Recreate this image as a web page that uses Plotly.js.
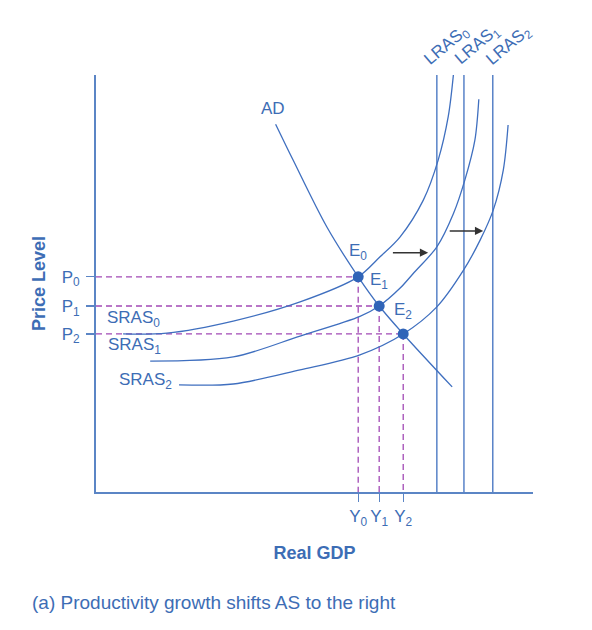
<!DOCTYPE html>
<html>
<head>
<meta charset="utf-8">
<script src="https://cdn.plot.ly/plotly-3.0.1.min.js"></script>
<style>html,body{margin:0;padding:0;background:#fff;}#chart{width:592px;height:630px;}</style>
</head>
<body>
<div id="chart"></div>
<script>
// Abstract units: Real GDP (x) and Price Level (y), both on a 0-100 scale
const adX = [41.1, 45.1, 52.8, 60.0, 64.8, 70.3, 81.5];
const adY = [88.2, 79.6, 63.6, 51.6, 44.6, 37.9, 25.2];

const sras0X = [6.2, 16.2, 31.4, 46.7, 60.0, 65.0, 69.6, 74.9, 78.3, 80.6, 81.8];
const sras0Y = [37.9, 38.1, 41.0, 45.6, 51.6, 56.4, 61.2, 70.0, 79.6, 90.0, 100.2];

const sras1X = [12.4, 31.4, 46.7, 60.4, 64.8, 69.6, 72.6, 78.0, 81.8, 84.4, 86.7, 87.6];
const sras1Y = [31.4, 32.4, 37.4, 42.1, 44.6, 48.9, 52.4, 58.8, 66.8, 74.8, 84.4, 94.2];

const sras2X = [19.0, 31.4, 46.7, 60.4, 70.3, 78.0, 84.1, 87.9, 90.9, 93.2, 94.3];
const sras2Y = [25.7, 25.9, 29.3, 32.9, 37.9, 44.4, 53.2, 60.4, 67.6, 77.2, 88.0];

const lrasX = [78.0, 84.2, 90.8];
const lrasTop = 100.5;

const eqX = [60.0, 64.8, 70.3];
const eqY = [51.6, 44.6, 37.9];
const eqLabels = ['E<sub>0</sub>', 'E<sub>1</sub>', 'E<sub>2</sub>'];
const pLabels = ['P<sub>0</sub>', 'P<sub>1</sub>', 'P<sub>2</sub>'];
const yLabels = ['Y<sub>0</sub>', 'Y<sub>1</sub>', 'Y<sub>2</sub>'];
const lrasLabels = ['LRAS<sub>0</sub>', 'LRAS<sub>1</sub>', 'LRAS<sub>2</sub>'];
const srasLabels = ['SRAS<sub>0</sub>', 'SRAS<sub>1</sub>', 'SRAS<sub>2</sub>'];

// arrows: [fromX, toX, y]
const arrow1 = [67.6, 76.0, 57.4];
const arrow2 = [80.6, 88.6, 62.6];

const BLUE = '#3f6fbf';
const TEXT = '#3d6db5';
const PURPLE = '#a24ab5';
const FONT = 'Liberation Sans, Arial, sans-serif';

const traces = [];
// dashed guides
for (let i = 0; i < 3; i++) {
  traces.push({x: [0, eqX[i]], y: [eqY[i], eqY[i]], mode: 'lines', hoverinfo: 'skip',
    line: {color: PURPLE, width: 1.3, dash: '6px,4px'}});
  traces.push({x: [eqX[i], eqX[i]], y: [eqY[i], 0], mode: 'lines', hoverinfo: 'skip',
    line: {color: PURPLE, width: 1.3, dash: '6px,4px'}});
}
// LRAS lines
lrasX.forEach(v => traces.push({x: [v, v], y: [0, lrasTop], mode: 'lines', cliponaxis: false,
  line: {color: BLUE, width: 1.3}}));
// curves
[[adX, adY], [sras0X, sras0Y], [sras1X, sras1Y], [sras2X, sras2Y]].forEach(c =>
  traces.push({x: c[0], y: c[1], mode: 'lines', cliponaxis: false,
    line: {color: BLUE, width: 1.3, shape: 'spline', smoothing: 0.9}}));
// equilibrium points
traces.push({x: eqX, y: eqY, mode: 'markers', cliponaxis: false,
  marker: {color: '#3064b8', size: 11}});

const ann = [];
const lab = (x, y, text, extra) => Object.assign({x: x, y: y, xref: 'x', yref: 'y', text: text,
  showarrow: false, font: {family: FONT, size: 17, color: TEXT}}, extra || {});

ann.push(lab(40.5, 91.9, 'AD'));
ann.push(lab(eqX[0], eqY[0] + 6.0, eqLabels[0]));
ann.push(lab(eqX[1], eqY[1] + 6.0, eqLabels[1]));
ann.push(lab(eqX[2], eqY[2] + 5.4, eqLabels[2]));
ann.push(lab(2.0, 41.6, srasLabels[0], {xanchor: 'left'}));
ann.push(lab(2.4, 35.0, srasLabels[1], {xanchor: 'left'}));
ann.push(lab(4.7, 26.7, srasLabels[2], {xanchor: 'left'}));
const lrasLabelX = [80.3, 87.2, 94.5];
lrasLabels.forEach((t, i) => ann.push({x: lrasLabelX[i], y: 1.137, xref: 'x', yref: 'paper', text: t,
  showarrow: false, textangle: -40, font: {family: FONT, size: 17, color: TEXT}}));
[arrow1, arrow2].forEach(a => ann.push({x: a[1], y: a[2], ax: a[0], ay: a[2], xref: 'x', yref: 'y',
  axref: 'x', ayref: 'y', text: '', showarrow: true, arrowhead: 2, arrowsize: 1.1, arrowwidth: 1.5,
  arrowcolor: '#333333'}));
ann.push({x: -0.151, y: -0.265, xref: 'paper', yref: 'paper', xanchor: 'left', yanchor: 'middle',
  text: '(a) Productivity growth shifts AS to the right', showarrow: false,
  font: {family: FONT, size: 19, color: TEXT}});

const layout = {
  width: 592, height: 630,
  margin: {l: 96, r: 59, t: 75, b: 138},
  paper_bgcolor: '#ffffff', plot_bgcolor: '#ffffff',
  showlegend: false,
  font: {family: FONT, color: TEXT},
  xaxis: {range: [0, 100], showgrid: false, zeroline: false, showline: true,
    linecolor: '#5b85c5', linewidth: 2, ticks: 'outside', ticklen: 8, tickcolor: '#5b85c5', tickwidth: 1.3,
    tickvals: eqX, ticktext: yLabels, tickfont: {family: FONT, size: 17, color: TEXT},
    title: {text: '<b>Real GDP</b>', font: {family: FONT, size: 18, color: TEXT}, standoff: 18},
    fixedrange: true},
  yaxis: {range: [0, 100], showgrid: false, zeroline: false, showline: true,
    linecolor: '#5b85c5', linewidth: 2, ticks: 'outside', ticklen: 8, tickcolor: '#5b85c5', tickwidth: 1.3,
    ticklabelstandoff: 3,
    tickvals: eqY, ticktext: pLabels, tickfont: {family: FONT, size: 17, color: TEXT},
    title: {text: '<b>Price Level</b>', font: {family: FONT, size: 18, color: TEXT}, standoff: 11},
    fixedrange: true},
  annotations: ann
};

Plotly.newPlot('chart', traces, layout, {displayModeBar: false, staticPlot: true});
</script>
</body>
</html>
